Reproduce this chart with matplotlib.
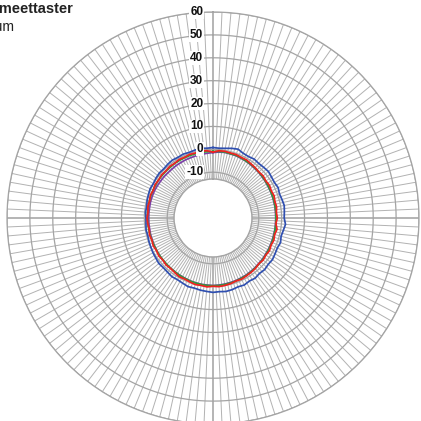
import numpy as np
import matplotlib
matplotlib.use('Agg')
import matplotlib.pyplot as plt

# angles in degrees, clockwise from top, every 5 degrees
angles_deg = list(range(0, 360, 5))

blue = [0.8, 0.6, 0.9, 1.5, 2.0, 1.2, 1.0, 1.4, 1.1, 1.3, 1.6, 1.2,
        1.0, 1.4, 0.9, 1.2, 1.6, 1.3, 1.1, 1.8, 1.2, 0.8, 1.4, 1.0,
        1.3, 1.7, 1.5, 1.9, 1.6, 2.1, 1.8, 2.3, 2.0, 2.4, 2.6, 2.3,
        2.5, 2.2, 2.0, 1.7, 1.9, 1.4, 1.1, 1.3, 0.9, 0.7, 0.9, 0.5,
        0.3, 0.0, -0.2, -0.5, -0.3, -0.6, -0.7, -0.4, -0.6, -0.2, 0.0, 0.3,
        0.1, 0.4, 0.6, 0.4, 0.7, 0.9, 0.6, 0.8, 0.5, 0.7, 0.9, 0.6]

red = [-1.2, -0.5, -0.4, -0.6, -0.5, -0.8, -0.7, -1.1, -1.3, -1.6, -1.4, -1.8,
       -1.5, -1.9, -1.6, -2.0, -1.8, -2.2, -1.9, -2.4, -1.6, -2.1, -1.7, -2.0,
       -1.5, -1.8, -1.4, -1.7, -1.2, -1.0, -0.8, -0.5, -0.7, -0.3, -0.1, 0.1,
       -0.2, 0.2, -0.1, 0.1, -0.3, -0.6, -0.4, -0.9, -1.2, -1.0, -1.4, -1.1,
       -1.5, -1.2, -1.6, -1.3, -1.7, -1.4, -1.2, -1.5, -1.1, -1.3, -0.9, -1.2,
       -0.8, -1.0, -0.7, -0.9, -0.6, -0.8, -0.5, -0.7, -0.4, -0.6, -0.3, -0.5]

green = [-0.9, -0.8, -0.7, -0.9, -0.8, -1.0, -1.2, -1.3, -1.5, -1.7, -1.8, -2.0,
         -2.1, -2.2, -2.3, -2.3, -2.4, -2.4, -2.5, -2.4, -2.4, -2.3, -2.2, -2.1,
         -2.0, -1.9, -1.7, -1.6, -1.4, -1.2, -1.0, -0.9, -0.7, -0.6, -0.5, -0.4,
         -0.4, -0.4, -0.5, -0.6, -0.7, -0.9, -1.0, -1.2, -1.3, -1.4, -1.5, -1.5,
         -1.6, -1.6, -1.6, -1.5, -1.5, -1.4, -1.3, -1.3, -1.2, -1.2, -1.1, -1.1,
         -1.1, -1.0, -1.0, -1.0, -1.0, -0.9, -0.9, -0.9, -0.9, -0.9, -0.9, -0.9]

purple = [-1.4, -1.1, -0.9, -1.0, -1.0, -1.2, -1.3, -1.5, -1.7, -1.8, -2.0, -2.1,
          -2.3, -2.3, -2.4, -2.5, -2.5, -2.6, -2.6, -2.6, -2.5, -2.5, -2.4, -2.3,
          -2.2, -2.1, -1.9, -1.8, -1.6, -1.4, -1.2, -1.1, -0.9, -0.8, -0.7, -0.6,
          -0.5, -0.6, -0.6, -0.7, -0.8, -1.0, -1.1, -1.2, -1.3, -1.3, -1.4, -1.5,
          -1.6, -1.7, -1.8, -1.8, -1.9, -1.9, -1.9, -1.9, -1.9, -1.8, -1.8, -1.8,
          -1.9, -2.0, -2.0, -2.1, -2.1, -2.0, -2.0, -1.9, -1.9, -1.8, -1.7, -1.6]

ring_values = [-10, 0, 10, 20, 30, 40, 50, 60]
ring_labels = ['-10', '0', '10', '20', '30', '40', '50', '60']

R_MIN = -13
R_MAX = 60
R_ORIGIN = -30

fig = plt.figure(figsize=(4.21, 4.21), dpi=100)
W = 421.0
cx, cy, rad = 213.0, 218.0, 206.0
ax = fig.add_axes([(cx - rad) / W, (W - cy - rad) / W, 2 * rad / W, 2 * rad / W],
                  projection='polar')
ax.set_theta_zero_location('N')
ax.set_theta_direction(-1)
ax.set_rorigin(R_ORIGIN)
ax.set_ylim(R_MIN, R_MAX)
ax.grid(False)
ax.set_xticks([])
ax.set_yticks([])

# spokes every 2.5 degrees
spoke_deg = np.arange(0, 360, 2.5)
for d in spoke_deg:
    t = np.deg2rad(d)
    if d % 90 == 0:
        ax.plot([t, t], [R_MIN, R_MAX], color='#a0a0a0', lw=1.1, zorder=1)
    else:
        ax.plot([t, t], [R_MIN, R_MAX], color='#b2b2b2', lw=0.7, zorder=1)

# rings
circ = np.linspace(0, 2 * np.pi, 721)
for rv in ring_values:
    ax.plot(circ, np.full_like(circ, rv), color='#a4a4a4', lw=0.9, zorder=1)
ax.plot(circ, np.full_like(circ, R_MIN), color='#b0b0b0', lw=0.9, zorder=1)

for name, sp in ax.spines.items():
    sp.set_color('#a4a4a4')
    sp.set_linewidth(0.9)

# data series
theta = np.deg2rad(angles_deg + [360])
series = [(purple, '#7b3fa8'), (green, '#2aa03a'), (blue, '#2f4fb0'), (red, '#f02020')]
for vals, col in series:
    ax.plot(theta, list(vals) + [vals[0]], color=col, lw=1.25, zorder=3)

# ring labels along the top spoke
for rv, lab in zip(ring_values, ring_labels):
    ax.annotate(lab, xy=(0, rv), xytext=(-7, 0), textcoords='offset points',
                ha='right', va='center', fontsize=8.5, fontweight='bold',
                family='Liberation Sans', color='#111111', zorder=4,
                bbox=dict(boxstyle='square,pad=0.08', fc='white', ec='none'))

fig.text(73 / W, 1 - 9 / W, 'Rondheidsmeettaster', ha='right', va='center',
         fontsize=10.5, fontweight='bold', family='Liberation Sans', color='#222222')
fig.text(15 / W, 1 - 27 / W, 'Datum', ha='right', va='center',
         fontsize=10, family='Liberation Sans', color='#222222')

fig.savefig('out.png', dpi=100)
